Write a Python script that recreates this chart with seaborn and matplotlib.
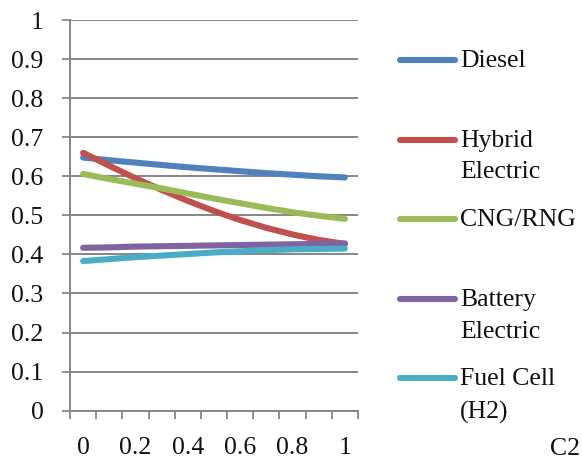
import numpy as np
import pandas as pd
import matplotlib
matplotlib.use("Agg")
import matplotlib.pyplot as plt
import seaborn as sns

# ---- data ----
x_values = [0.0, 0.1, 0.2, 0.3, 0.4, 0.5, 0.6, 0.7, 0.8, 0.9, 1.0]
diesel = [0.648, 0.641, 0.635, 0.629, 0.623, 0.618, 0.613, 0.608, 0.604, 0.600, 0.597]
hybrid = [0.660, 0.627, 0.595, 0.565, 0.537, 0.511, 0.488, 0.468, 0.451, 0.437, 0.427]
cng = [0.606, 0.593, 0.581, 0.569, 0.556, 0.543, 0.531, 0.519, 0.508, 0.499, 0.491]
battery = [0.417, 0.418, 0.420, 0.421, 0.422, 0.423, 0.424, 0.425, 0.426, 0.427, 0.428]
fuel_cell = [0.383, 0.388, 0.393, 0.397, 0.401, 0.405, 0.408, 0.411, 0.413, 0.414, 0.415]

series_names = ["Diesel", "Hybrid Electric", "CNG/RNG", "Battery Electric", "Fuel Cell (H2)"]
legend_labels = ["Diesel\n ", "Hybrid\nElectric", "CNG/RNG\n ", "Battery\nElectric", "Fuel Cell\n(H2)"]
colors = ["#4F81BD", "#C0504D", "#9BBB59", "#8064A2", "#4BACC6"]
x_ticks = [0.0, 0.2, 0.4, 0.6, 0.8, 1.0]
x_tick_labels = ["0", "0.2", "0.4", "0.6", "0.8", "1"]
y_ticks = [0.0, 0.1, 0.2, 0.3, 0.4, 0.5, 0.6, 0.7, 0.8, 0.9, 1.0]
y_tick_labels = ["0", "0.1", "0.2", "0.3", "0.4", "0.5", "0.6", "0.7", "0.8", "0.9", "1"]
corner_note = "C2"

all_values = [diesel, hybrid, cng, battery, fuel_cell]
df = pd.DataFrame({
    "x": np.tile(x_values, len(series_names)),
    "value": np.concatenate(all_values),
    "series": np.repeat(series_names, len(x_values)),
})

sns.set_theme(style="white")
plt.rcParams['font.family'] = ['Liberation Serif', 'DejaVu Serif']

W, H = 582, 468
fig = plt.figure(figsize=(W / 100, H / 100), dpi=100)
ax = fig.add_axes([70 / W, 1 - 410.7 / H, 288 / W, 390.7 / H])

grey = "#868686"
lw = 4.4
sns.lineplot(data=df, x="x", y="value", hue="series", hue_order=series_names,
             palette=colors, linewidth=lw, ax=ax, legend=False)
for ln in ax.get_lines():
    ln.set_solid_capstyle("round")
    ln.set_solid_joinstyle("round")

ax.set_xlim(-0.05, 1.05)
ax.set_ylim(0, 1)
ax.set_xlabel("")
ax.set_ylabel("")

ax.set_xticks(x_ticks)
ax.set_xticklabels(x_tick_labels)
ax.set_xticks(np.arange(-0.05, 1.06, 0.1), minor=True)
ax.set_yticks(y_ticks)
ax.set_yticklabels(y_tick_labels)

ax.tick_params(axis="x", which="major", length=0, pad=19, labelsize=18.5, labelcolor="#111111")
ax.tick_params(axis="x", which="minor", length=5.6, width=1.3, color=grey, direction="out", bottom=True)
ax.tick_params(axis="y", which="major", length=5.6, width=1.3, color=grey, direction="out",
               pad=13.5, labelsize=18.5, labelcolor="#111111", left=True)

ax.yaxis.grid(True, color=grey, linewidth=1.4)
ax.xaxis.grid(False)
ax.set_axisbelow(True)
for s in ["top", "right"]:
    ax.spines[s].set_visible(False)
for s in ["left", "bottom"]:
    ax.spines[s].set_color(grey)
    ax.spines[s].set_linewidth(1.4)

handles = [plt.Line2D([], [], color=c, linewidth=lw, solid_capstyle="round") for c in colors]
leg = fig.legend(handles, legend_labels, loc="upper left", bbox_to_anchor=(400 / W, 1 - 50 / H),
                 frameon=False, fontsize=18.5, handlelength=2.15, handletextpad=0.18,
                 labelspacing=1.0, borderpad=0, borderaxespad=0, handleheight=1.0)
for t in leg.get_texts():
    t.set_linespacing(1.58)
    t.set_color("#111111")
for col in leg._legend_handle_box.get_children():
    for item in col.get_children():
        item.align = "top"

fig.text(580 / W, 1 - 455 / H, corner_note, ha="right", va="baseline", fontsize=18.5, color="#111111")

fig.savefig("out.png", dpi=100)
